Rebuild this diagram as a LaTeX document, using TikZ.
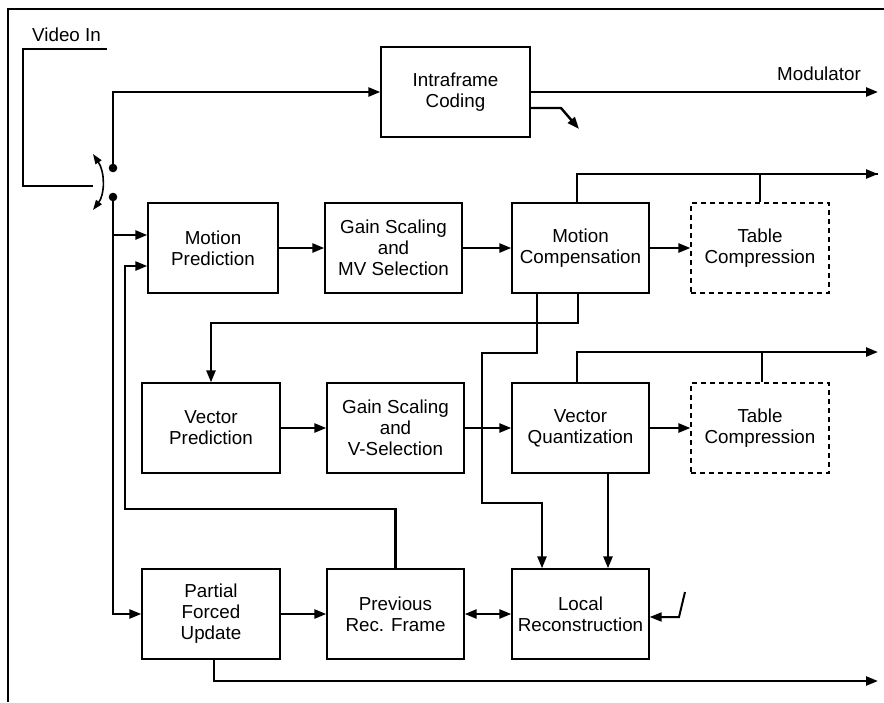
\documentclass[tikz,border=0pt]{standalone}
\usepackage{fontspec}
\setmainfont{Liberation Sans}
\usetikzlibrary{arrows.meta}
\begin{document}
\begin{tikzpicture}[x=1pt,y=-1pt,
  blk/.style={draw, line width=1.3pt, minimum width=137pt, minimum height=90pt, align=center,
    font=\fontsize{18.8}{21}\selectfont, inner sep=0pt},
  dblk/.style={blk, line width=1.1pt, dash pattern=on 5pt off 4pt},
  conn/.style={line width=2.4pt},
  arr/.style={conn, -{Triangle[length=12pt,width=9pt]}},
  darr/.style={conn, {Triangle[length=12pt,width=9pt]}-{Triangle[length=12pt,width=9pt]}},
  thinl/.style={line width=1.2pt},
  lbl/.style={font=\fontsize{18.8}{21}\selectfont, inner sep=0pt}
]
\useasboundingbox (0,0) rectangle (884,702);
% frame (top and left edges)
\draw[line width=1.2pt] (8,702) -- (8,9) -- (884,9);

% blocks
\node[blk, minimum width=149pt] (IC) at (455.5,92) {Intraframe\\Coding};
\node[blk, minimum width=130pt] (MP) at (213,248) {Motion\\Prediction};
\node[blk] (GS1) at (393.5,248) {Gain Scaling\\and\\MV Selection};
\node[blk] (MC) at (580.5,248) {Motion\\Compensation};
\node[dblk, minimum width=138pt] (TC1) at (760,248) {Table\\Compression};
\node[blk, minimum width=138pt] (VP) at (211,428) {Vector\\Prediction};
\node[blk] (GS2) at (395.5,428) {Gain Scaling\\and\\V-Selection};
\node[blk] (VQ) at (580.5,428) {Vector\\Quantization};
\node[dblk, minimum width=138pt] (TC2) at (760,428) {Table\\Compression};
\node[blk, minimum width=138pt] (PFU) at (211,614) {Partial\\Forced\\Update};
\node[blk] (PRF) at (395.5,614) {Previous\\Rec. Frame};
\node[blk] (LR) at (580.5,614) {Local\\Reconstruction};

% labels
\node[lbl, anchor=base west] (vin) at (32,41) {Video In};
\node[lbl, anchor=base] (mod) at (819,80) {Modulator};

% video in and switch
\draw[thinl] (107,49) -- (23,49) -- (23,186) -- (93,186);
\draw[line width=1.6pt, {Triangle[length=10pt,width=7pt]}-{Triangle[length=10pt,width=7pt]}]
  (93,154) .. controls (105,172) and (105,194) .. (93,210);
\coordinate (s1) at (113,168);
\coordinate (s2) at (113,197);
\fill (s1) circle (4.3);
\fill (s2) circle (4.3);
\draw[arr] (s1) |- (IC.west);
\draw[arr] (s2) |- (PFU.west);
\coordinate (j1) at (113,235);
\draw[arr] (j1) -- (j1 -| MP.west);

% feedback from previous rec. frame
\coordinate (j2) at (125,266);
\coordinate (j3) at (125,509);
\draw[arr] (PRF.north) |- (j3) |- (j2 -| MP.west);

% intraframe outputs
\coordinate (o1) at (878,92);
\draw[arr] (IC.east) -- (o1);
\coordinate (ic2) at (561,108);
\coordinate (ic3) at (579,129);
\draw[arr] ([yshift=-16pt]IC.east) -- (ic2) -- (ic3);

% motion row
\draw[arr] (MP.east) -- (GS1.west);
\draw[arr] (GS1.east) -- (MC.west);
\draw[arr] (MC.east) -- (TC1.west);
\coordinate (o2) at (878,174);
\draw[conn] ([xshift=-3.5pt]MC.north) |- (o2);
\draw[arr] ([xshift=-3.5pt]MC.north |- o2) -- (o2);
\draw[thinl] (TC1.north) -- (TC1.north |- o2);

% MC down to vector prediction
\coordinate (h1) at (0,323);
\draw[arr] ([xshift=-2.5pt]MC.south) |- (VP.north |- h1) -- (VP.north);
% MC down to local reconstruction
\coordinate (k1) at (482,353);
\coordinate (k2) at (542,503);
\draw[arr] ([xshift=-43.5pt]MC.south) |- (k1) |- (k2) -- (k2 |- LR.north);

% vector row
\draw[arr] (VP.east) -- (GS2.west);
\draw[arr] (GS2.east) -- (VQ.west);
\draw[arr] (VQ.east) -- (TC2.west);
\coordinate (o3) at (878,352);
\draw[arr] ([xshift=-3.5pt]VQ.north) |- (o3);
\draw[thinl] ([xshift=2pt]TC2.north) -- ([xshift=2pt]TC2.north |- o3);
\draw[arr] ([xshift=27.5pt]VQ.south) -- ([xshift=27.5pt]LR.north);

% bottom row
\draw[arr] (PFU.east) -- (PRF.west);
\draw[darr] (PRF.east) -- (LR.west);
\coordinate (lr1) at (685,592);
\coordinate (lr2) at (679,617);
\draw[line width=2pt, -{Triangle[length=12pt,width=9pt]}] (lr1) -- (lr2) -- (lr2 -| LR.east);
\coordinate (o4) at (878,681);
\draw[arr] ([xshift=3pt]PFU.south) |- (o4);
\end{tikzpicture}
\end{document}
